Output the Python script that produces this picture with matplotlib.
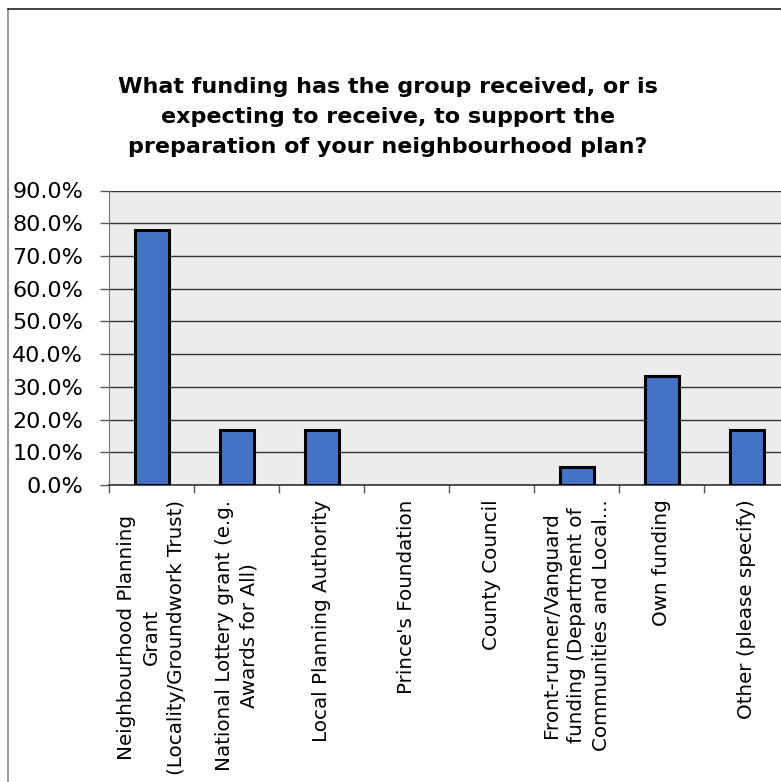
import matplotlib
matplotlib.use("Agg")
import matplotlib.pyplot as plt
from matplotlib.lines import Line2D
from matplotlib.ticker import FuncFormatter, FixedLocator

title = ("What funding has the group received, or is\n"
         "expecting to receive, to support the\n"
         "preparation of your neighbourhood plan?")

categories = [
    "Neighbourhood Planning\nGrant\n(Locality/Groundwork Trust)",
    "National Lottery grant (e.g.\nAwards for All)",
    "Local Planning Authority",
    "Prince's Foundation",
    "County Council",
    "Front-runner/Vanguard\nfunding (Department of\nCommunities and Local...",
    "Own funding",
    "Other (please specify)",
]
shares = [0.778, 0.167, 0.167, 0.0, 0.0, 0.056, 0.333, 0.167]
y_ticks = [0.0, 0.1, 0.2, 0.3, 0.4, 0.5, 0.6, 0.7, 0.8, 0.9]

W, H = 781, 782
fig = plt.figure(figsize=(W / 100, H / 100), dpi=100)
fig.patch.set_facecolor("white")

# plot area runs off the right edge of the picture, as in the source crop
ax = fig.add_axes([109 / W, 1 - 485 / H, 680 / W, (485 - 190.5) / H])
ax.set_facecolor("#ececec")

x = list(range(len(categories)))
# empty categories get no outline, like the original
edge_w = [2.2 if v > 0 else 0 for v in shares]
ax.bar(x, shares, width=0.4, color="#4472c4", edgecolor="black",
       linewidth=edge_w, zorder=3)

ax.set_xlim(-0.5, len(categories) - 0.5)
ax.set_ylim(0, 0.9)
ax.yaxis.set_major_locator(FixedLocator(y_ticks))
ax.yaxis.set_major_formatter(FuncFormatter(lambda v, p: f"{v * 100:.1f}%"))
ax.grid(axis="y", color="#333333", linewidth=1.0, zorder=1)
ax.tick_params(axis="y", length=6.5, width=1, color="#555555",
               labelsize=16, pad=12)

# category boundary ticks on the x axis, labels in the middle
ax.set_xticks([i - 0.5 for i in x] + [len(x) - 0.5])
ax.set_xticklabels([])
ax.tick_params(axis="x", length=6, width=1, color="#555555")
for i, lab in enumerate(categories):
    ax.text(i, -0.05, lab, rotation=90, ha="center", va="top",
            multialignment="center", fontsize=14.3, linespacing=1.4,
            transform=ax.get_xaxis_transform())

for side in ["top", "right"]:
    ax.spines[side].set_visible(False)
ax.spines["left"].set_color("#777777")
ax.spines["bottom"].set_color("#333333")
ax.spines["bottom"].set_linewidth(1.2)

fig.text(0.497, 1 - 117 / H, title, ha="center", va="center",
         fontsize=16, fontweight="bold", linespacing=1.6)

# outer chart frame (left and top edges visible)
fig.add_artist(Line2D([8 / W, 8 / W], [0, 1 - 9 / H], color="#888888",
                      linewidth=1.2, transform=fig.transFigure))
fig.add_artist(Line2D([8 / W, 1], [1 - 9 / H, 1 - 9 / H], color="#222222",
                      linewidth=1.2, transform=fig.transFigure))

fig.savefig("out.png", dpi=100)
